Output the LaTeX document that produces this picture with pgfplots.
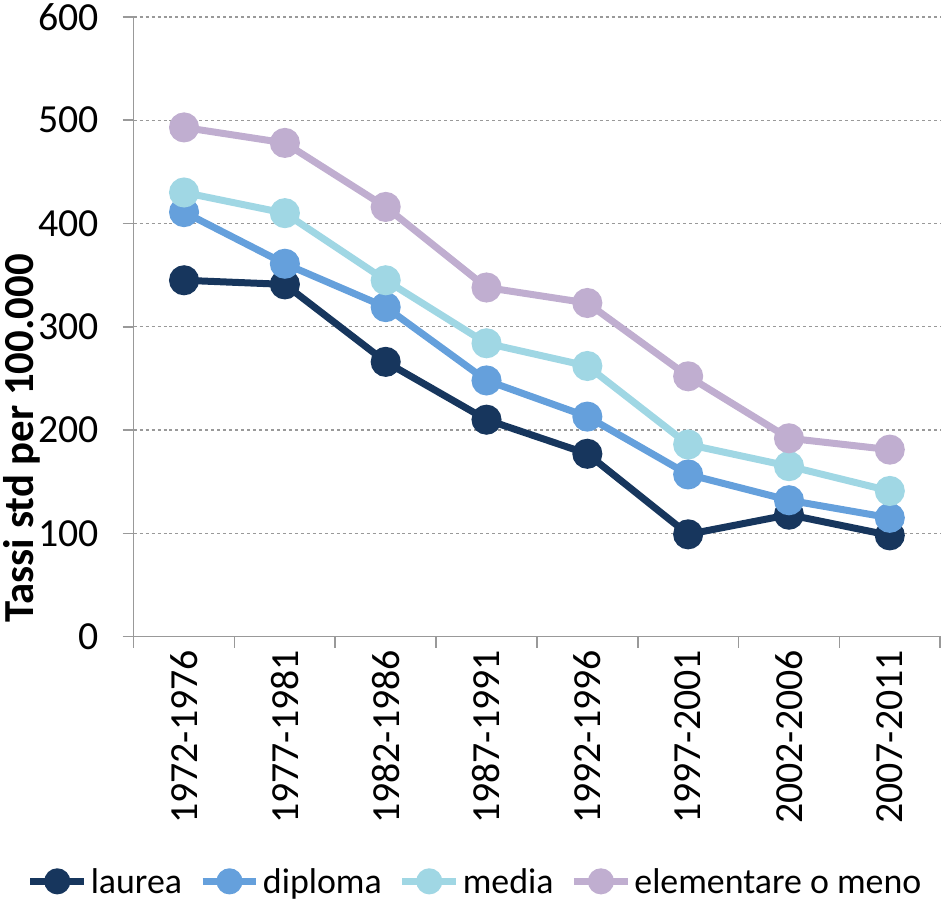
\documentclass[border=0pt]{standalone}
\usepackage{fontspec}
\setmainfont{Carlito}
\usepackage{pgfplots}
\pgfplotsset{compat=1.18}
\definecolor{colL}{HTML}{17365D}
\definecolor{colD}{HTML}{65A0DC}
\definecolor{colM}{HTML}{A0D7E4}
\definecolor{colE}{HTML}{C0AED0}
\begin{document}
\begin{tikzpicture}
\begin{axis}[
  scale only axis, width=807bp, height=620bp,
  xmin=-0.5, xmax=7.5, ymin=0, ymax=600,
  xtick={0,...,7},
  xticklabels={1972-1976,1977-1981,1982-1986,1987-1991,1992-1996,1997-2001,2002-2006,2007-2011},
  x tick label style={rotate=90, anchor=east},
  xticklabel shift=-1bp,
  y tick label style={anchor=east, xshift=-20bp},
  minor xtick={-0.5,0.5,...,7.5},
  major x tick style={draw=none},
  ytick={0,100,...,600},
  ymajorgrids, grid style={dashed, black!40, line width=1.3bp},
  axis x line*=bottom, axis y line*=left,
  axis line style={black!40, line width=1.6bp, -},
  tick style={black!40, line width=1.6bp},
  tick align=outside, major tick length=11bp, minor tick length=11bp,
  every tick label/.append style={font=\fontsize{40}{44}\selectfont},
  /pgf/number format/assume math mode=true,
  ylabel={\bfseries Tassi std per 100.000},
  every axis y label/.style={at={(rel axis cs:0,0.32)}, xshift=-112bp, rotate=90, anchor=center, font=\fontsize{43}{46}\selectfont},
  legend columns=4,
  legend style={draw=none, at={(0.4226,-0.395)}, anchor=center, font=\fontsize{36}{40}\selectfont,
    inner sep=4bp,
    nodes={inner sep=1bp},
    /tikz/every odd column/.append style={column sep=2bp},
    /tikz/every even column/.append style={column sep=16bp}},
  legend image code/.code={\draw[mark repeat=2,mark phase=2, mark size=9.5bp] plot coordinates {(0bp,0bp)(27bp,0bp)(54bp,0bp)};},
  every axis plot/.append style={line width=7bp, mark=*, mark size=11.5bp},
  clip=false,
]
\addplot[colL, mark options={fill=colL, draw=colL}] coordinates {(0,345)(1,341)(2,266)(3,210)(4,177)(5,99)(6,118)(7,98)};
\addlegendentry{laurea}
\addplot[colD, mark options={fill=colD, draw=colD}] coordinates {(0,411)(1,361)(2,319)(3,248)(4,213)(5,157)(6,132)(7,115)};
\addlegendentry{diploma}
\addplot[colM, mark options={fill=colM, draw=colM}] coordinates {(0,430)(1,410)(2,345)(3,284)(4,262)(5,186)(6,165)(7,141)};
\addlegendentry{media}
\addplot[colE, mark options={fill=colE, draw=colE}] coordinates {(0,493)(1,478)(2,416)(3,338)(4,323)(5,252)(6,192)(7,181)};
\addlegendentry{elementare o meno}
\end{axis}
\end{tikzpicture}
\end{document}
